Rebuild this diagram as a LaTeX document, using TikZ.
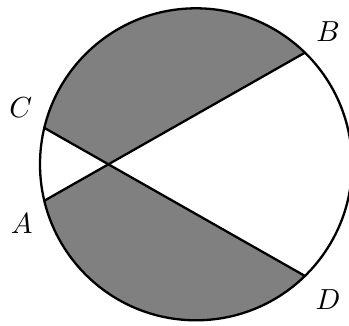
\documentclass[tikz,border=0pt]{standalone}
\usepackage{tikz}
\usetikzlibrary{calc}

\begin{document}
\begin{tikzpicture}[
    x=1pt, y=1pt,
    region/.style={fill=gray, draw=none},
    chord/.style={line width=2.3pt, line cap=round},
    rim/.style={line width=2.3pt},
    lbl/.style={scale=2.9, inner sep=0pt}
]
    \useasboundingbox (-196,-160.7) rectangle (153,164.3);
    \coordinate (O) at (0,0);
    \coordinate (C) at (166.5:156);
    \coordinate (A) at (193.5:156);
    \coordinate (B) at (45.7:156);
    \coordinate (D) at (-45.7:156);
    \coordinate (P) at (intersection of A--B and C--D);

    % shaded parts
    \fill[region] (C) arc[start angle=166.5, end angle=45.7, radius=156] -- (P) -- cycle;
    \fill[region] (A) arc[start angle=193.5, end angle=314.3, radius=156] -- (P) -- cycle;

    \draw[chord] (A) -- (B);
    \draw[chord] (C) -- (D);
    \draw[rim] (O) circle[radius=156];

    \node[lbl] (lC) at (-175.3,56.3) {$C$};
    \node[lbl] (lA) at (-174.3,-59.7) {$A$};
    \node[lbl] (lB) at (132,132.6) {$B$};
    \node[lbl] (lD) at (132,-135.7) {$D$};
\end{tikzpicture}
\end{document}
